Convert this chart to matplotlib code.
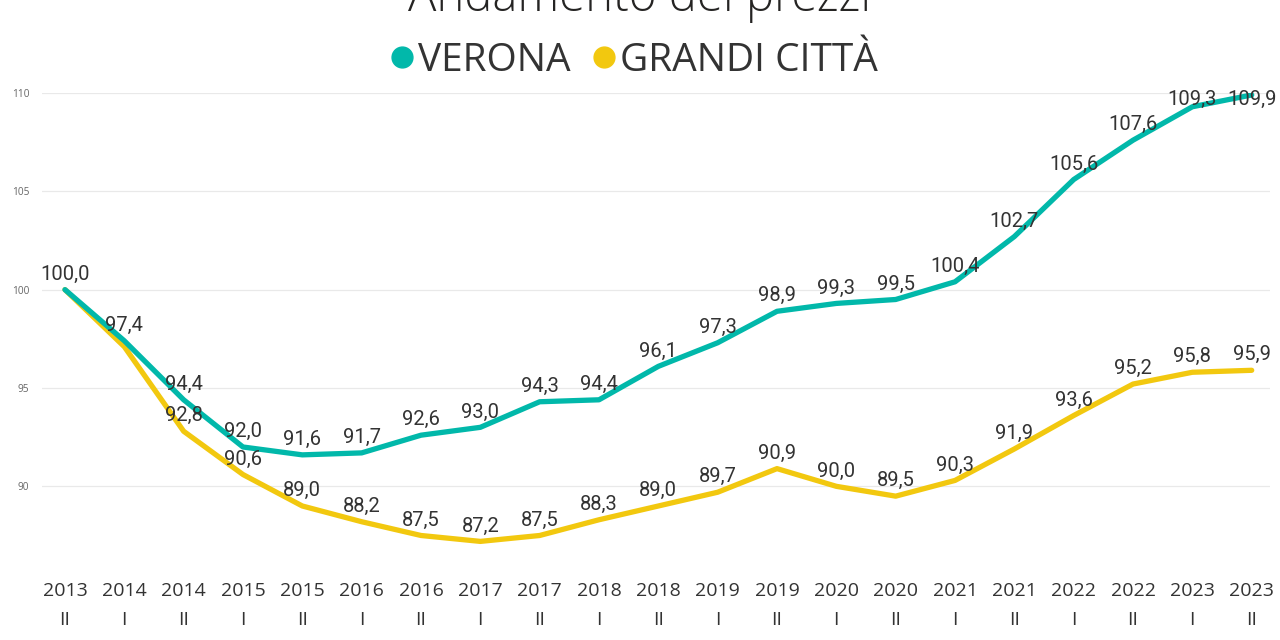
import matplotlib
matplotlib.use("Agg")
import matplotlib.pyplot as plt
from matplotlib.lines import Line2D

# ---- data ----
years = ["2013", "2014", "2014", "2015", "2015", "2016", "2016", "2017", "2017", "2018", "2018",
         "2019", "2019", "2020", "2020", "2021", "2021", "2022", "2022", "2023", "2023"]
semesters = ["II", "I", "II", "I", "II", "I", "II", "I", "II", "I", "II",
             "I", "II", "I", "II", "I", "II", "I", "II", "I", "II"]
verona = [100.0, 97.4, 94.4, 92.0, 91.6, 91.7, 92.6, 93.0, 94.3, 94.4, 96.1,
          97.3, 98.9, 99.3, 99.5, 100.4, 102.7, 105.6, 107.6, 109.3, 109.9]
grandi = [100.0, 97.1, 92.8, 90.6, 89.0, 88.2, 87.5, 87.2, 87.5, 88.3, 89.0,
          89.7, 90.9, 90.0, 89.5, 90.3, 91.9, 93.6, 95.2, 95.8, 95.9]
grandi_hidden = [0, 1]  # labels not shown in reference
yticks = [90, 95, 100, 105, 110]
series_names = ["VERONA", "GRANDI CITTÀ"]
title = "Andamento dei prezzi"

TEAL = "#01B8AA"
YELLOW = "#F2C80F"
TXT = "#333333"

fig = plt.figure(figsize=(12.8, 6.4), dpi=100)
ax = fig.add_axes([0.0328, 0.1172, 0.959, 0.7375])

x = list(range(len(years)))
ax.plot(x, grandi, color=YELLOW, lw=3.8, solid_capstyle="round", solid_joinstyle="round", zorder=2)
ax.plot(x, verona, color=TEAL, lw=3.8, solid_capstyle="round", solid_joinstyle="round", zorder=3)

ymin, ymax = 86.0, 110.0
ax.set_ylim(ymin, ymax)
ax.set_xlim(-0.3875, 20.30)

ax.set_yticks(yticks)
ax.set_yticklabels([str(t) for t in yticks], fontsize=7.3, color="#666666", family="Open Sans")
ax.tick_params(axis="y", length=0, pad=9)
ax.grid(axis="y", color="#e9e9e9", lw=0.9)
ax.set_axisbelow(True)
for s in ax.spines.values():
    s.set_visible(False)

ax.set_xticks(x)
ax.set_xticklabels([f"{y}\n{s}" for y, s in zip(years, semesters)],
                   fontsize=14, color=TXT, family="Open Sans", linespacing=1.8)
ax.tick_params(axis="x", length=0, pad=12)

off = 0.3
lab_h = 0.8

def fmt(v):
    return f"{v:.1f}".replace(".", ",")

for i, v in enumerate(verona):
    yb = min(v + off, ymax - lab_h)
    ax.text(i, yb, fmt(v), ha="center", va="bottom", fontsize=14.5, color=TXT,
            family="Roboto", zorder=5, clip_on=False)
for i, v in enumerate(grandi):
    if i in grandi_hidden:
        continue
    yb = min(v + off, ymax - lab_h)
    ax.text(i, yb, fmt(v), ha="center", va="bottom", fontsize=14.5, color=TXT,
            family="Roboto", zorder=5, clip_on=False)

fig.text(0.5, 1 - 11 / 640, title, ha="center", va="baseline", fontsize=34,
         color="#252423", family="Open Sans", fontweight="light")

handles = [Line2D([], [], ls="none", marker="o", markersize=15, color=TEAL),
           Line2D([], [], ls="none", marker="o", markersize=15, color=YELLOW)]
leg = fig.legend(handles, series_names, loc="center", bbox_to_anchor=(0.5 - 6 / 1280, 1 - 61 / 640),
                 ncol=2, frameon=False, handlelength=0.6, handletextpad=0.12,
                 columnspacing=0.55, borderaxespad=0, prop={"family": "Open Sans", "size": 28})
for t in leg.get_texts():
    t.set_color(TXT)

fig.savefig("out.png", dpi=100)
